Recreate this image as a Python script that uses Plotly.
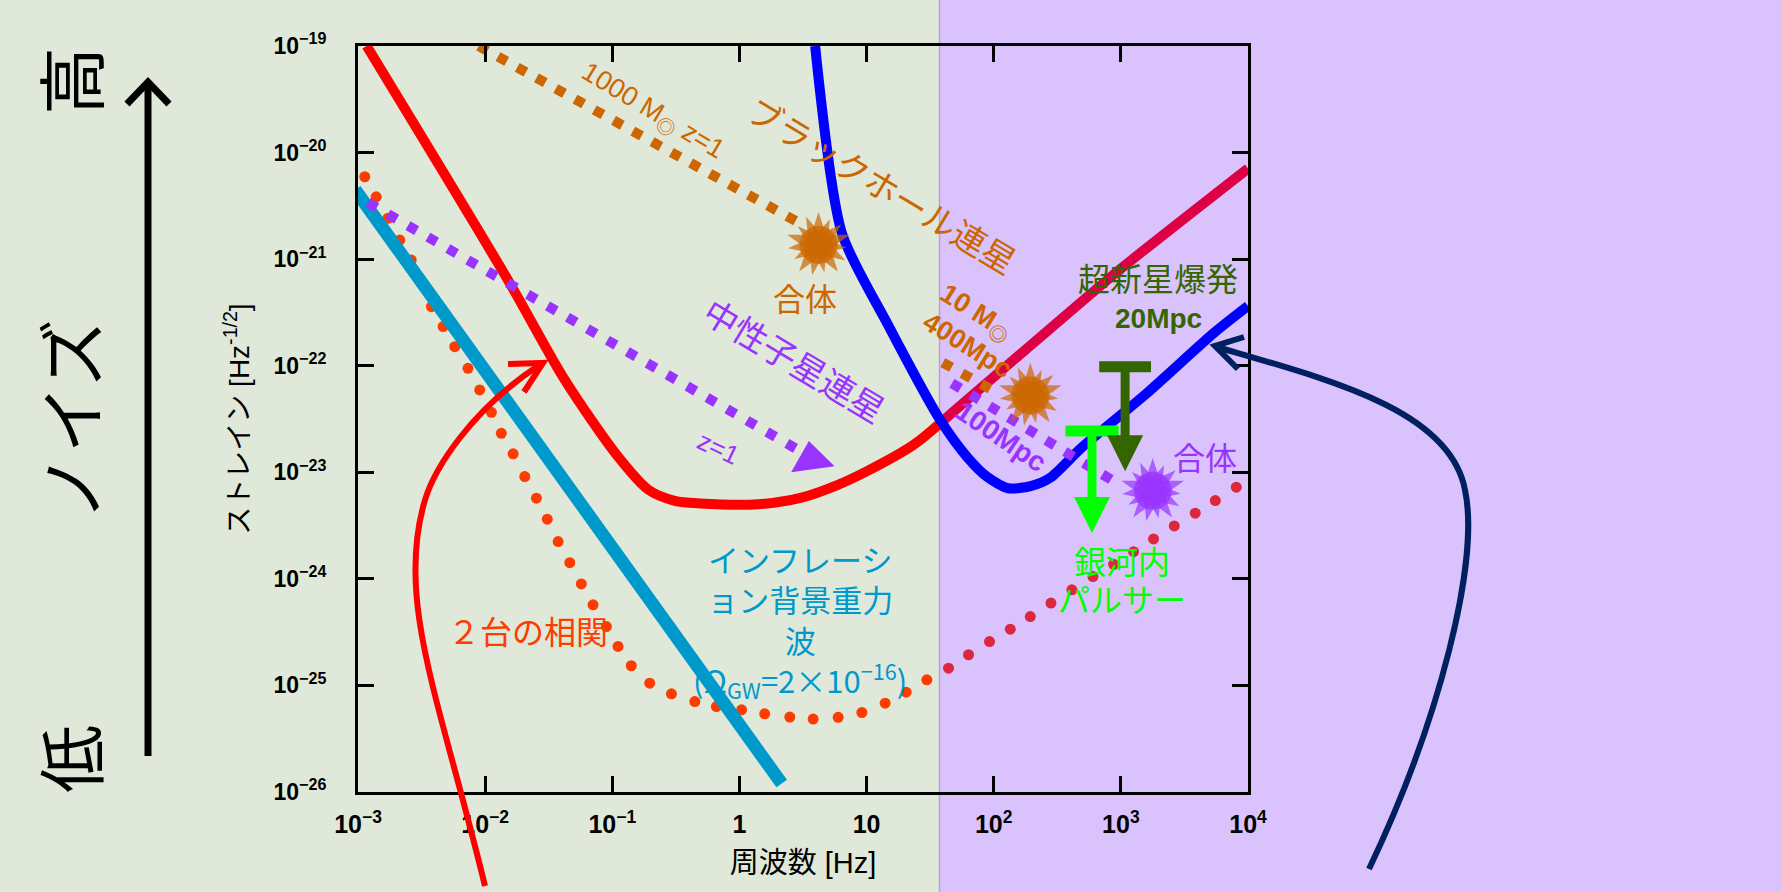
import numpy as np
import plotly.graph_objects as go

# ---------------- data ----------------
x_tick_vals = [1e-3, 1e-2, 1e-1, 1, 10, 1e2, 1e3, 1e4]
x_tick_text = ["10<sup>−3</sup>", "10<sup>−2</sup>", "10<sup>−1</sup>", "1", "10",
               "10<sup>2</sup>", "10<sup>3</sup>", "10<sup>4</sup>"]
y_tick_vals = [1e-26, 1e-25, 1e-24, 1e-23, 1e-22, 1e-21, 1e-20, 1e-19]
y_tick_text = ["10<sup>−26</sup>", "10<sup>−25</sup>", "10<sup>−24</sup>", "10<sup>−23</sup>",
               "10<sup>−22</sup>", "10<sup>−21</sup>", "10<sup>−20</sup>", "10<sup>−19</sup>"]

band_boundary_f = 37.5  # Hz, boundary between the two shaded bands

# space detector sensitivity (red part, then crimson part)
space_f = [1.17e-3, 0.0151, 0.0423, 0.111, 0.191, 0.310, 0.491, 1.40, 3.02, 5.89, 10.0, 23.4, 37.9]
space_h = [1.0e-19, 6.38e-22, 7.36e-23, 1.40e-23, 6.9e-24, 5.4e-24, 5.1e-24, 5.01e-24,
           5.75e-24, 7.59e-24, 1.02e-23, 1.81e-23, 2.89e-23]
space_hi_f = [37.9, 931, 1.0e4]
space_hi_h = [2.89e-23, 7.6e-22, 7.08e-21]

# ground detector sensitivity (blue)
ground_f = [3.94, 6.40, 14.5, 37.9, 61.5, 88.1, 130, 195, 279, 490, 1600, 5370, 1.0e4]
ground_h = [1.0e-19, 1.75e-21, 2.51e-22, 3.10e-23, 1.40e-23, 9.12e-24, 7.08e-24, 7.41e-24,
            8.91e-24, 1.70e-23, 5.52e-23, 2.02e-22, 3.63e-22]

# correlation of two detectors (dotted)
corr_f = [9.55e-4, 1.13e-3, 1.39e-3, 1.72e-3, 2.13e-3, 2.62e-3, 3.13e-3, 3.78e-3, 4.67e-3, 5.77e-3,
          7.33e-3, 9.06e-3, 1.12e-2, 1.34e-2, 1.66e-2, 2.05e-2, 2.53e-2, 3.08e-2, 3.75e-2, 4.63e-2,
          5.71e-2, 7.06e-2, 8.99e-2, 0.111, 0.141, 0.197, 0.292, 0.446, 0.659, 1.04,
          1.58, 2.49, 3.80, 5.98, 9.18, 14.0, 20.5, 29.8, 44.1, 63.4,
          92.7, 135, 194, 282, 412, 603, 877, 1259, 1807, 2630,
          3846, 5534, 8091]
corr_h = [9.84e-21, 5.93e-21, 3.84e-21, 2.42e-21, 1.51e-21, 9.82e-22, 5.98e-22, 3.58e-22, 2.33e-22, 1.51e-22,
          9.46e-23, 5.93e-23, 3.65e-23, 2.32e-23, 1.49e-23, 9.12e-24, 5.71e-24, 3.63e-24, 2.24e-24, 1.42e-24,
          8.97e-25, 5.70e-25, 3.57e-25, 2.32e-25, 1.53e-25, 1.05e-25, 8.34e-26, 7.06e-26, 6.34e-26, 5.90e-26,
          5.42e-26, 5.05e-26, 4.83e-26, 5.02e-26, 5.57e-26, 6.82e-26, 8.65e-26, 1.13e-25, 1.45e-25, 1.94e-25,
          2.58e-25, 3.37e-25, 4.43e-25, 5.92e-25, 7.89e-25, 1.05e-24, 1.37e-24, 1.80e-24, 2.37e-24, 3.14e-24,
          4.13e-24, 5.43e-24, 7.24e-24]

# inflationary background (Omega_GW = 2e-16)
infl_f = [9.5e-4, 2.15]
infl_h = [4.47e-21, 1.20e-26]

# 1000 Msun black-hole binary at z=1
bbh_f = [8.9e-3, 2.83]
bbh_h = [1.0e-19, 2.25e-21]
bbh_merge_f, bbh_merge_h = 4.19, 1.36e-21
# 10 Msun black-hole binary at 400 Mpc
sbh_f = [39.8, 105]
sbh_h = [1.07e-22, 5.62e-23]
sbh_merge_f, sbh_merge_h = 194, 5.25e-23
# neutron-star binary at z=1
ns_f = [1.2e-3, 2.90]
ns_h = [3.39e-21, 1.62e-23]
ns_end_f, ns_end_h = 3.69, 1.31e-23
# neutron-star binary at 100 Mpc
nsn_f = [46.9, 931]
nsn_h = [6.85e-23, 7.91e-24]
nsn_merge_f, nsn_merge_h = 1780, 6.7e-24
# upper limits
sn_f, sn_h, sn_tip = 1080, 9.8e-23, 1.02e-23
psr_f, psr_h, psr_tip = 593, 2.44e-23, 2.70e-24

# ---------------- styling ----------------
GREEN_BG = "#E0E8D9"
PURPLE_BG = "#DAC3FC"
RED = "#FF0000"
CRIMSON = "#DD0044"
BLUE = "#0000FF"
LBLUE = "#0099CC"
ORANGE = "#CC6600"
PURPLE = "#9933FF"
DKGREEN = "#336600"
LIME = "#00FF00"
NAVY = "#002060"
DOT_A = "#FF3C00"
DOT_B = "#DC283C"
JP = "Noto Sans CJK JP"
LAT = "Liberation Sans, Noto Sans CJK JP"

W, H = 1781, 892
L, R, T, B = 358, 1248, 46, 792


def px(X):
    return (X - L) / (R - L)


def py(Y):
    return (B - Y) / (B - T)


def path(cmds):
    out = []
    for c, pts in cmds:
        out.append(c + " " + " ".join(f"{px(x):.5f},{py(y):.5f}" for x, y in pts))
    return " ".join(out)


fig = go.Figure()

# correlation dots
dot_colors = [DOT_A if f < band_boundary_f else DOT_B for f in corr_f]
fig.add_trace(go.Scatter(x=corr_f, y=corr_h, mode="markers", cliponaxis=False,
                         marker=dict(size=11, color=dot_colors)))
# inflation line
fig.add_trace(go.Scatter(x=infl_f, y=infl_h, mode="lines", line=dict(color=LBLUE, width=13)))
# detector curves
fig.add_trace(go.Scatter(x=space_f, y=space_h, mode="lines",
                         line=dict(color=RED, width=10, shape="spline", smoothing=0.8)))
fig.add_trace(go.Scatter(x=space_hi_f, y=space_hi_h, mode="lines",
                         line=dict(color=CRIMSON, width=10, shape="spline", smoothing=0.4)))
fig.add_trace(go.Scatter(x=ground_f, y=ground_h, mode="lines",
                         line=dict(color=BLUE, width=10, shape="spline", smoothing=0.7)))
# binary tracks (square dots)
fig.add_trace(go.Scatter(x=bbh_f, y=bbh_h, mode="lines", line=dict(color=ORANGE, width=10, dash="10px,12px")))
fig.add_trace(go.Scatter(x=sbh_f, y=sbh_h, mode="lines", line=dict(color=ORANGE, width=10, dash="10px,12px")))
fig.add_trace(go.Scatter(x=ns_f, y=ns_h, mode="lines", line=dict(color=PURPLE, width=10, dash="10px,13px")))
fig.add_trace(go.Scatter(x=nsn_f, y=nsn_h, mode="lines", line=dict(color=PURPLE, width=10, dash="10px,12px")))
fig.add_trace(go.Scatter(x=[ns_end_f], y=[ns_end_h], mode="markers",
                         marker=dict(symbol="triangle-up", size=38, angle=-8, color=PURPLE)))


def burst(f, h, color):
    fig.add_trace(go.Scatter(
        x=[f] * 4, y=[h] * 4, mode="markers",
        marker=dict(symbol=["circle", "star", "star", "star"], size=[38, 47, 40, 44],
                    angle=[0, 0, 24, 48], color=color, line=dict(width=0))))


burst(bbh_merge_f, bbh_merge_h, ORANGE)
burst(sbh_merge_f, sbh_merge_h, ORANGE)
burst(nsn_merge_f, nsn_merge_h, PURPLE)

# upper-limit bars
for f, h, col, size in [(sn_f, sn_h, DKGREEN, 37), (psr_f, psr_h, LIME, 38)]:
    fig.add_trace(go.Scatter(x=[f], y=[h], mode="markers",
                             marker=dict(symbol="line-ew", size=size, color=col,
                                         line=dict(color=col, width=11))))

annotations = []
for f, h, tip, col in [(sn_f, sn_h, sn_tip, DKGREEN), (psr_f, psr_h, psr_tip, LIME)]:
    annotations.append(dict(x=np.log10(f), y=np.log10(tip), ax=np.log10(f), ay=np.log10(h),
                            xref="x", yref="y", axref="x", ayref="y", text="", showarrow=True,
                            arrowhead=2, arrowsize=0.8, arrowwidth=9, arrowcolor=col))


def label(text, X, Y, color, size, angle=0, family=JP, align="center", weight="normal"):
    annotations.append(dict(text=text, x=px(X), y=py(Y), xref="paper", yref="paper",
                            showarrow=False, textangle=angle, align=align,
                            font=dict(family=family, size=size, color=color, weight=weight),
                            xanchor="center", yanchor="middle"))


label("1000 M<sub>◎</sub> z=1", 652, 112, ORANGE, 27, 31, LAT)
label("ブラックホール連星", 883, 184, ORANGE, 34, 31)
label("合体", 805, 297, ORANGE, 32)
label("中性子星連星", 795, 360, PURPLE, 34, 31)
label("z=1", 718, 448, PURPLE, 26, 25, LAT)
label("10 M<sub>◎</sub>", 975, 313, ORANGE, 27, 32, LAT, weight="bold")
label("400Mpc", 967, 345, ORANGE, 27, 32, LAT, weight="bold")
label("100Mpc", 1001, 436, PURPLE, 28, 34, LAT, weight="bold")
label("合体", 1205, 456, PURPLE, 32)
label("超新星爆発", 1158, 277, DKGREEN, 32)
label("20Mpc", 1158, 318, DKGREEN, 28, 0, LAT, weight="bold")
label("銀河内", 1122, 560, LIME, 32)
label("パルサー", 1122, 598, LIME, 32)
label("インフレーシ<br>ョン背景重力<br>波<br>(Ω<sub>GW</sub>=2×10<sup>−16</sup>)", 800, 620, LBLUE, 31)
label("２台の相関", 528, 630, DOT_A, 32)
label("低　　　ノイズ　　　高", 68, 420, "black", 68, -90)

shapes = []
# right band shading
bx = (np.log10(band_boundary_f) + 3) / 7
shapes.append(dict(type="rect", xref="paper", yref="paper", x0=bx, x1=px(W + 20),
                   y0=py(H + 20), y1=py(-20), fillcolor=PURPLE_BG,
                   line=dict(color="#B6A0DC", width=1.5), layer="below"))
# big noise arrow
shapes.append(dict(type="line", xref="paper", yref="paper", x0=px(148), y0=py(756),
                   x1=px(148), y1=py(84), line=dict(color="black", width=7)))
shapes.append(dict(type="path", xref="paper", yref="paper",
                   path=path([("M", [(127, 104)]), ("L", [(148, 82)]), ("L", [(169, 104)])]),
                   line=dict(color="black", width=7)))
# red curved arrow
shapes.append(dict(type="path", xref="paper", yref="paper",
                   path=path([("M", [(485, 886)]), ("C", [(440, 700), (395, 600), (425, 500)]),
                              ("C", [(434, 470), (470, 410), (541, 364)])]),
                   line=dict(color=RED, width=6)))
shapes.append(dict(type="path", xref="paper", yref="paper",
                   path=path([("M", [(508, 364)]), ("L", [(543, 363)]), ("L", [(524, 392)])]),
                   line=dict(color=RED, width=6)))
# navy curved arrow
shapes.append(dict(type="path", xref="paper", yref="paper",
                   path=path([("M", [(1369, 869)]), ("C", [(1440, 720), (1480, 560), (1465, 490)]),
                              ("C", [(1450, 410), (1330, 380), (1217, 347)])]),
                   line=dict(color=NAVY, width=6)))
shapes.append(dict(type="path", xref="paper", yref="paper",
                   path=path([("M", [(1244, 337)]), ("L", [(1215, 346)]), ("L", [(1238, 369)])]),
                   line=dict(color=NAVY, width=6)))

axis_common = dict(showline=True, linecolor="black", linewidth=3, mirror="ticks",
                   ticks="inside", ticklen=16, tickwidth=3, tickcolor="black",
                   showgrid=False, zeroline=False)

fig.update_layout(
    width=W, height=H,
    margin=dict(l=L, r=W - R, t=T, b=H - B, autoexpand=False),
    paper_bgcolor=GREEN_BG, plot_bgcolor="rgba(0,0,0,0)",
    showlegend=False,
    xaxis=dict(type="log", range=[-3, 4], tickvals=x_tick_vals, ticktext=x_tick_text,
               tickfont=dict(family="Liberation Sans Narrow, Liberation Sans", size=25,
                             color="black", weight="bold"),
               ticklabelstandoff=8,
               title=dict(text="周波数 [Hz]", font=dict(family=LAT, size=29, color="black"), standoff=16),
               **axis_common),
    yaxis=dict(type="log", range=[-26, -19], tickvals=y_tick_vals, ticktext=y_tick_text,
               tickfont=dict(family="Liberation Sans", size=23, color="black", weight="bold"),
               ticklabelstandoff=24,
               title=dict(text="ストレイン [Hz<sup>-1/2</sup>]", font=dict(family=LAT, size=28, color="black"),
                          standoff=16),
               **axis_common),
    annotations=annotations,
    shapes=shapes,
)

fig.write_html("out.html", config={"displayModeBar": False},
               post_script="document.body.style.margin='0px';document.body.style.overflow='hidden';")
